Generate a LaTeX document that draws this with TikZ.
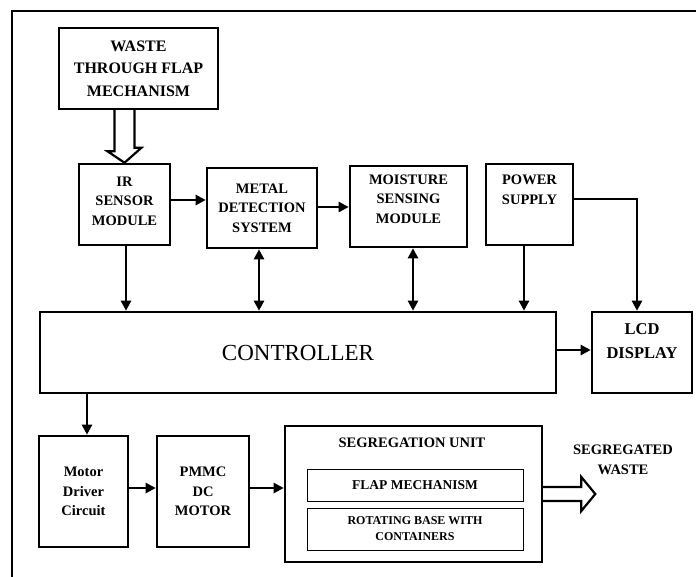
\documentclass[tikz,border=0pt]{standalone}
\usepackage{fontspec}
\setmainfont{Liberation Serif}
\usetikzlibrary{arrows.meta,calc}
\pgfdeclarelayer{background}
\pgfsetlayers{background,main}
\tikzset{
  box/.style={draw, line width=2.6pt, inner sep=0pt, align=center, fill=white},
  thin box/.style={draw, line width=1pt, inner sep=0pt, align=center},
  lbl/.style={align=center, inner sep=0pt, font=\fontsize{14.5}{19.5}\selectfont\bfseries},
  arr/.style={line width=2.4pt, -{Triangle[length=10pt,width=10pt]}},
  darr/.style={line width=2.4pt, {Triangle[length=10pt,width=10pt]}-{Triangle[length=10pt,width=10pt]}},
  hollow/.style={draw, line width=2.2pt, fill=white, line join=miter},
  frame/.style={line width=2.5pt}
}
\begin{document}
\begin{tikzpicture}[x=1pt,y=-1pt]
\useasboundingbox (0,0) rectangle (696,576);
\draw[frame] (700,11) -- (12,11) -- (12,580);

% boxes
\node[box, minimum width=159, minimum height=81, font=\fontsize{16}{22.5}\selectfont\bfseries] (waste) at (138.5,68.5) {WASTE\\THROUGH FLAP\\MECHANISM};
\node[box, minimum width=91, minimum height=81, lbl] (ir) at (124.5,204.5) {};
\node[lbl] (irtxt) at (124.5,201) {IR\\SENSOR\\MODULE};
\node[box, minimum width=110, minimum height=80, lbl] (metal) at (262,208) {METAL\\DETECTION\\SYSTEM};
\node[box, minimum width=117, minimum height=81] (moist) at (408.5,206.5) {};
\node[lbl] (moisttxt) at (408.5,199) {MOISTURE\\SENSING\\MODULE};
\node[box, minimum width=87, minimum height=81] (power) at (529.5,204.5) {};
\node[lbl] (powertxt) at (529.5,190) {POWER\\SUPPLY};
\node[box, minimum width=516, minimum height=81, font=\fontsize{23}{26}\selectfont] (ctrl) at (298,352.5) {CONTROLLER};
\node[box, minimum width=100, minimum height=81] (lcd) at (642,352.5) {};
\node[lbl, font=\fontsize{16.5}{24}\selectfont\bfseries] (lcdtxt) at (642,341) {LCD\\DISPLAY};
\node[box, minimum width=89, minimum height=111, lbl] (drv) at (83.5,491.5) {Motor\\Driver\\Circuit};
\node[box, minimum width=92, minimum height=111, lbl] (pmmc) at (203,491.5) {PMMC\\DC\\MOTOR};
\node[box, minimum width=257, minimum height=136] (seg) at (413.5,494) {};
\node[lbl] (segtxt) at (412,443) {SEGREGATION UNIT};
\node[thin box, minimum width=216, minimum height=32, font=\fontsize{13.5}{16}\selectfont\bfseries] (flap) at (415,485) {FLAP MECHANISM};
\node[thin box, minimum width=216, minimum height=42, font=\fontsize{12}{16}\selectfont\bfseries] (rot) at (415,529) {ROTATING BASE WITH\\CONTAINERS};
\node[lbl] (out) at (623,460) {SEGREGATED\\WASTE};

\begin{pgfonlayer}{background}
% hollow arrow from waste to IR
\path[hollow] ($(ir.north |- waste.south)+(-10,-3)$) -- ++(0,44) -- ++(-7,0) -- (ir.north) -- ++(17,-15) -- ++(-7,0) -- ++(0,-44);
% hollow arrow out of segregation unit
\path[hollow] ($(seg.east)+(-3,-7)$) -- ++(41,0) -- ++(0,-10) -- ++(14,17) -- ++(-14,17) -- ++(0,-10) -- ++(-41,0);
\end{pgfonlayer}

% connectors
\draw[arr] (ir.east |- 0,200) -- (metal.west |- 0,200);
\draw[arr] (metal.east |- 0,207) -- (moist.west |- 0,207);
\draw[arr] (ir.south -| 126,0) -- (ctrl.north -| 126,0);
\draw[darr] (metal.south -| 259,0) -- (ctrl.north -| 259,0);
\draw[darr] (moist.south -| 413,0) -- (ctrl.north -| 413,0);
\draw[arr] (power.south -| 524,0) -- (ctrl.north -| 524,0);
\draw[arr] (power.east |- 0,199) -| (lcd.north -| 637,0);
\draw[arr] (ctrl.east |- 0,350) -- (lcd.west |- 0,350);
\draw[arr] (ctrl.south -| 87,0) -- (drv.north -| 87,0);
\draw[arr] (drv.east |- 0,488) -- (pmmc.west |- 0,488);
\draw[arr] (pmmc.east |- 0,488) -- (seg.west |- 0,488);
\end{tikzpicture}
\end{document}
